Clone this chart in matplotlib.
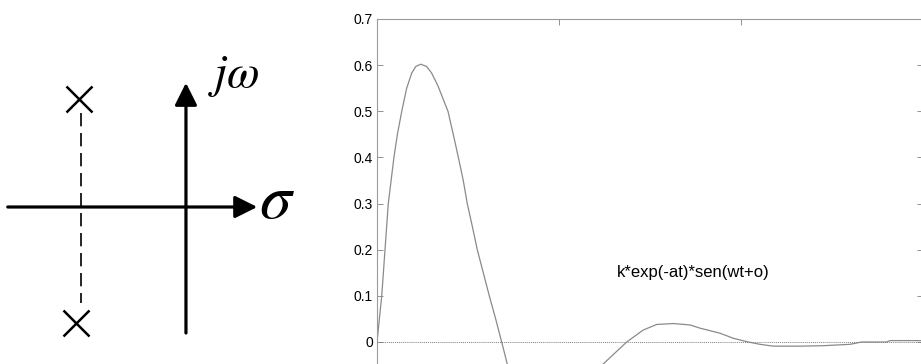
import matplotlib as mpl
import matplotlib.pyplot as plt
import numpy as np

# pole diagram (s-plane), poles in diagram units
pole_re = [-0.99, -1.02]
pole_im = [1.0, -1.07]

# damped response
t = [0.0, 0.013, 0.026, 0.044, 0.053, 0.062, 0.093, 0.112, 0.136, 0.163, 0.191,
     0.213, 0.24, 0.273, 0.30, 0.335, 0.39, 0.419, 0.447, 0.474, 0.496, 0.524,
     0.551, 0.617, 0.652, 0.685, 0.716, 0.80, 0.98, 1.15, 1.242,
     1.372, 1.463, 1.537, 1.628, 1.72, 1.775, 1.885, 1.958, 2.04, 2.104, 2.177,
     2.324, 2.452, 2.6, 2.663, 2.8, 2.819, 2.99]
y = [0.0, 0.05, 0.1, 0.2, 0.25, 0.3, 0.4, 0.45, 0.5, 0.55, 0.583,
     0.597, 0.602, 0.597, 0.583, 0.555, 0.5, 0.45, 0.4, 0.35, 0.3, 0.25,
     0.2, 0.1, 0.05, 0.0, -0.048, -0.11, -0.14, -0.1, -0.048,
     0.0, 0.026, 0.038, 0.040, 0.037, 0.030, 0.019, 0.008, 0.0, -0.005, -0.009,
     -0.009, -0.008, -0.005, 0.0, 0.0, 0.003, 0.003]
yticks = [0, 0.1, 0.2, 0.3, 0.4, 0.5, 0.6, 0.7]
ytick_labels = ["0", "0.1", "0.2", "0.3", "0.4", "0.5", "0.6", "0.7"]
label = "k*exp(-at)*sen(wt+o)"

W, H = 921, 364
fig = plt.figure(figsize=(W / 100, H / 100), dpi=100)
plt.rcParams['mathtext.fontset'] = 'stix'

# ---- left: s-plane sketch
ax0 = fig.add_axes([0, 0, 300 / W, 1])
ax0.set_xlim(-1.722, 1.056)
ax0.set_ylim(-1.454, 1.917)
ax0.axis('off')

arrow = dict(arrowstyle='-|>,head_length=0.4,head_width=0.2', lw=2.3, color='k',
             mutation_scale=34, shrinkA=0, shrinkB=0)
ax0.annotate('', xy=(0.66, 0), xytext=(-1.65, 0), arrowprops=arrow)
ax0.annotate('', xy=(0, 1.15), xytext=(0, -1.167), arrowprops=arrow)
ax0.plot([pole_re[0] + 0.02, pole_re[0] + 0.02], [pole_im[0] - 0.13, pole_im[1] + 0.18],
         color='k', lw=1.2, ls=(0, (8, 4)))
ax0.plot(pole_re, pole_im, 'x', color='k', ms=19, mew=1.8)
ax0.text(0.2, 1.11, r'$j\omega$', fontsize=34, ha='left', va='baseline')
ax0.text(0.68, -0.1, r'$\sigma$', fontsize=46, ha='left', va='baseline')

# ---- right: time response
ax = fig.add_axes([377 / W, -36 / H, 546 / W, 381 / H])
ax.plot(t, y, color='#8a8a8a', lw=0.9)
ax.axhline(0, color='#808080', lw=0.7, ls=(0, (1, 1)))
ax.set_xlim(0, 3)
ax.set_ylim(-0.1257, 0.7)
ax.set_yticks(yticks)
ax.set_yticklabels(ytick_labels)
ax.set_xticks([0, 1, 2, 3])
ax.tick_params(direction='in', length=4, width=0.6, color='#808080', labelsize=10,
               top=True, right=True, labelbottom=False, pad=3)
for lab in ax.get_yticklabels():
    lab.set_fontfamily('Liberation Sans')
for s in ax.spines.values():
    s.set_color('#9a9a9a')
    s.set_linewidth(0.8)
ax.text(1.319, 0.15, label, fontsize=12, family='Liberation Sans', va='center', ha='left')

fig.savefig('out.png', dpi=100)
